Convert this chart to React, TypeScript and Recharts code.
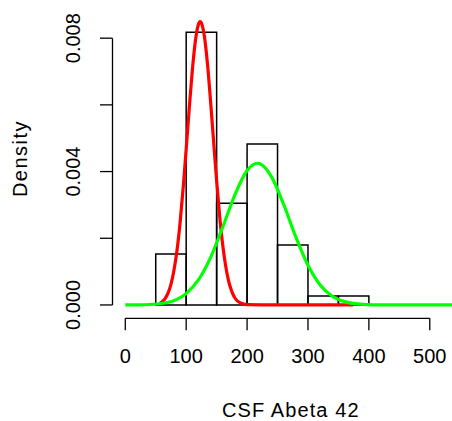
import {
  ComposedChart,
  Line,
  XAxis,
  YAxis,
  ReferenceArea,
  ReferenceLine,
  Label,
} from "recharts";

// histogram bins (width 50) and their densities
const binStarts = [50, 100, 150, 200, 250, 300, 350];
const binDensity = [0.00153, 0.00818, 0.00305, 0.00483, 0.0018, 0.00027, 0.00027];

// red fitted component
const redX = [57, 60, 70, 75, 80, 85, 90, 95, 100, 105, 110, 115, 120, 123, 125, 130, 135, 140, 145, 150, 155, 160, 165, 170, 175, 180, 190, 200, 250, 300, 374];
const redY = [0.00006, 0.00009, 0.00035, 0.00062, 0.00105, 0.00165, 0.00247, 0.0035, 0.00467, 0.00589, 0.00702, 0.0079, 0.00841, 0.0085, 0.00846, 0.00804, 0.00722, 0.00612, 0.00491, 0.00372, 0.00266, 0.0018, 0.00115, 0.00069, 0.0004, 0.00021, 0.00005, 0.00001, 0, 0, 0];

// green fitted component
const greenX = [0, 20, 40, 60, 80, 100, 120, 140, 160, 180, 200, 217, 220, 240, 260, 280, 300, 320, 340, 360, 380, 400, 420, 460, 500, 540];
const greenY = [0, 0.000003, 0.000013, 0.000045, 0.00013, 0.00034, 0.00075, 0.00142, 0.00233, 0.0033, 0.00403, 0.00425, 0.00424, 0.00385, 0.00302, 0.00204, 0.00119, 0.0006, 0.00026, 0.0001, 0.00003, 0.00001, 0, 0, 0, 0];

const xTicks = [0, 100, 200, 300, 400, 500];
const yTicks = [0, 0.002, 0.004, 0.006, 0.008];
const yLabelled = ["0.000", "", "0.004", "", "0.008"];

const redData = redX.map((x, i) => ({ x, y: redY[i] }));
const greenData = greenX.map((x, i) => ({ x, y: greenY[i] }));

const font = "'Liberation Sans', Arial, sans-serif";

const XTick = ({ x, y, payload }: any) => (
  <text x={x} y={y} dy={31} textAnchor="middle" fontSize={20} fontFamily={font} fill="#000">
    {payload.value}
  </text>
);

const YTick = ({ x, y, index }: any) => {
  const txt = yLabelled[index];
  if (!txt) return null;
  const bx = x - 18;
  return (
    <text
      x={bx}
      y={y}
      textAnchor="middle"
      fontSize={20}
      fontFamily={font}
      fill="#000"
      transform={`rotate(-90, ${bx}, ${y})`}
    >
      {txt}
    </text>
  );
};

export default function App() {
  return (
    <div style={{ position: "absolute", left: 0, top: 0, width: 452, height: 421, background: "#fff" }}>
      <ComposedChart
        width={452}
        height={421}
        margin={{ top: 11.5, right: 0, bottom: 0, left: 0 }}
      >
        <XAxis
          type="number"
          dataKey="x"
          domain={[-21, 536.5]}
          allowDataOverflow
          ticks={xTicks}
          axisLine={false}
          tickLine={{ stroke: "#000", strokeWidth: 1.3 }}
          tickSize={12}
          tick={<XTick />}
          height={102.7}
          interval={0}
        >
          <Label
            content={() => (
              <text x={290.8} y={416.5} textAnchor="middle" fontSize={20} fontFamily={font} letterSpacing={1.1} fill="#000">
                CSF Abeta 42
              </text>
            )}
          />
        </XAxis>
        <YAxis
          type="number"
          domain={[-0.0004, 0.0088]}
          allowDataOverflow
          ticks={yTicks}
          axisLine={false}
          tickLine={{ stroke: "#000", strokeWidth: 1.3 }}
          tickSize={12.5}
          tick={<YTick />}
          width={112.5}
          interval={0}
        >
          <Label
            content={() => (
              <text
                x={27}
                y={158.5}
                textAnchor="middle"
                fontSize={20}
                fontFamily={font}
                letterSpacing={1.5}
                fill="#000"
                transform="rotate(-90, 27, 158.5)"
              >
                Density
              </text>
            )}
          />
        </YAxis>
        <ReferenceLine
          segment={[{ x: 0, y: -0.0004 }, { x: 500, y: -0.0004 }]}
          stroke="#000"
          strokeWidth={1.3}
          ifOverflow="visible"
        />
        <ReferenceLine
          segment={[{ x: -21, y: 0 }, { x: -21, y: 0.008 }]}
          stroke="#000"
          strokeWidth={1.3}
          ifOverflow="visible"
        />
        {binStarts.map((b, i) => (
          <ReferenceArea
            key={b}
            x1={b}
            x2={b + 50}
            y1={0}
            y2={binDensity[i]}
            fill="none"
            fillOpacity={0}
            stroke="#000"
            strokeWidth={1.5}
            strokeOpacity={1}
          />
        ))}
        <Line
          data={redData}
          dataKey="y"
          type="monotone"
          stroke="#ff0000"
          strokeWidth={3.2}
          dot={false}
          isAnimationActive={false}
        />
        <Line
          data={greenData}
          dataKey="y"
          type="monotone"
          stroke="#00ff00"
          strokeWidth={3.2}
          dot={false}
          isAnimationActive={false}
        />
      </ComposedChart>
    </div>
  );
}
